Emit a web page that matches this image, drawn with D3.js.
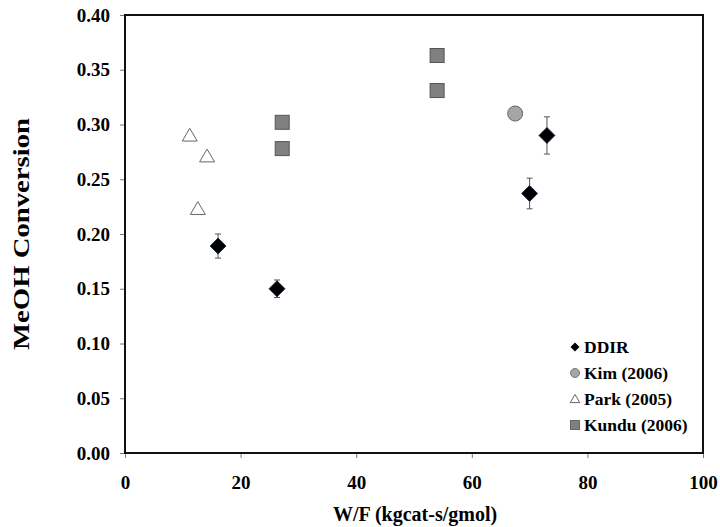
<!DOCTYPE html>
<html>
<head>
<meta charset="utf-8">
<script src="https://cdn.jsdelivr.net/npm/d3@7"></script>
<style>
  body { margin: 0; background: #fff; }
  svg text { font-family: "Liberation Serif", "Times New Roman", serif; font-weight: bold; }
</style>
</head>
<body>
<div id="chart"></div>
<script>
// DDIR data with error bars
const ddirX = [16.1, 26.3, 70.0, 73.0];
const ddirY = [0.189, 0.150, 0.237, 0.290];
const ddirErr = [0.011, 0.008, 0.014, 0.017];

// Kim (2006)
const kimX = [67.5];
const kimY = [0.310];

// Park (2005)
const parkX = [11.2, 14.2, 12.6];
const parkY = [0.290, 0.271, 0.223];

// Kundu (2006)
const kunduX = [27.2, 27.2, 54.0, 54.0];
const kunduY = [0.302, 0.278, 0.363, 0.331];

const xTicks = [0, 20, 40, 60, 80, 100];
const yTicks = [0, 0.05, 0.10, 0.15, 0.20, 0.25, 0.30, 0.35, 0.40];
const legendLabels = ["DDIR", "Kim (2006)", "Park (2005)", "Kundu (2006)"];

const W = 720, H = 527;
const margin = { top: 15, right: 17, bottom: 74, left: 125 };
const width = W - margin.left - margin.right,
      height = H - margin.top - margin.bottom;

const svg = d3.select("#chart").append("svg")
    .attr("width", W).attr("height", H);

const g = svg.append("g")
    .attr("transform", `translate(${margin.left},${margin.top})`);

const x = d3.scaleLinear().domain([0, 100]).range([0, width]);
const y = d3.scaleLinear().domain([0, 0.40]).range([height, 0]);

// axes
const xAxis = g.append("g")
    .attr("transform", `translate(0,${height})`)
    .call(d3.axisBottom(x).tickValues(xTicks).tickSize(5).tickPadding(18).tickFormat(d3.format("d")));
const yAxis = g.append("g")
    .call(d3.axisLeft(y).tickValues(yTicks).tickSize(5).tickPadding(10).tickFormat(d3.format(".2f")));

[xAxis, yAxis].forEach(a => {
    a.select(".domain").remove();
    a.selectAll(".tick line").attr("stroke", "#777");
    a.selectAll(".tick text").attr("font-size", 19).attr("fill", "#000")
        .style("font-family", '"Liberation Serif", serif').style("font-weight", "bold");
});

// plot frame
g.append("rect")
    .attr("width", width).attr("height", height)
    .attr("fill", "none").attr("stroke", "#111").attr("stroke-width", 2);

// axis titles
svg.append("text")
    .attr("x", 415).attr("y", 521)
    .attr("text-anchor", "middle").attr("font-size", 20)
    .text("W/F (kgcat-s/gmol)");
svg.append("text")
    .attr("transform", "translate(29,234) rotate(-90)")
    .attr("text-anchor", "middle").attr("font-size", 23)
    .attr("textLength", 232).attr("lengthAdjust", "spacingAndGlyphs")
    .text("MeOH Conversion");

const diamondPath = s => `M0,${-s}L${s},0L0,${s}L${-s},0Z`;
const triPath = s => `M0,${-s * 0.95}L${s},${s * 0.75}L${-s},${s * 0.75}Z`;

// Park triangles
g.selectAll(".park").data(parkX).enter().append("path")
    .attr("transform", (d, i) => `translate(${x(d)},${y(parkY[i])})`)
    .attr("d", triPath(7.5))
    .attr("fill", "#fff").attr("stroke", "#666").attr("stroke-width", 1);

// Kundu squares
g.selectAll(".kundu").data(kunduX).enter().append("rect")
    .attr("x", d => x(d) - 7).attr("y", (d, i) => y(kunduY[i]) - 7)
    .attr("width", 14).attr("height", 14)
    .attr("fill", "#808080").attr("stroke", "#555").attr("stroke-width", 1);

// Kim circle
g.selectAll(".kim").data(kimX).enter().append("circle")
    .attr("cx", d => x(d)).attr("cy", (d, i) => y(kimY[i]))
    .attr("r", 7.5)
    .attr("fill", "#a6a6a6").attr("stroke", "#666").attr("stroke-width", 1);

// DDIR error bars
const eb = g.selectAll(".err").data(ddirX).enter().append("g").attr("stroke", "#555").attr("stroke-width", 1);
eb.append("line")
    .attr("x1", d => x(d)).attr("x2", d => x(d))
    .attr("y1", (d, i) => y(ddirY[i] + ddirErr[i])).attr("y2", (d, i) => y(ddirY[i] - ddirErr[i]));
eb.append("line")
    .attr("x1", d => x(d) - 3).attr("x2", d => x(d) + 3)
    .attr("y1", (d, i) => y(ddirY[i] + ddirErr[i])).attr("y2", (d, i) => y(ddirY[i] + ddirErr[i]));
eb.append("line")
    .attr("x1", d => x(d) - 3).attr("x2", d => x(d) + 3)
    .attr("y1", (d, i) => y(ddirY[i] - ddirErr[i])).attr("y2", (d, i) => y(ddirY[i] - ddirErr[i]));

// DDIR diamonds
g.selectAll(".ddir").data(ddirX).enter().append("path")
    .attr("transform", (d, i) => `translate(${x(d)},${y(ddirY[i])})`)
    .attr("d", diamondPath(8))
    .attr("fill", "#000").attr("stroke", "#0a1a3a").attr("stroke-width", 0.8);

// legend
const legend = svg.append("g").attr("transform", "translate(575,347)");
const lg = legend.selectAll(".item").data(legendLabels).enter().append("g")
    .attr("transform", (d, i) => `translate(0,${i * 26})`);
lg.append("text").attr("x", 9).attr("y", 6).attr("font-size", 17.5).text(d => d);
lg.each(function(d, i) {
    const s = d3.select(this);
    if (i === 0) s.append("path").attr("d", diamondPath(4.5)).attr("fill", "#000");
    if (i === 1) s.append("circle").attr("r", 4.5).attr("fill", "#a6a6a6").attr("stroke", "#777");
    if (i === 2) s.append("path").attr("d", triPath(4.8)).attr("fill", "#fff").attr("stroke", "#666");
    if (i === 3) s.append("rect").attr("x", -4.5).attr("y", -4.5).attr("width", 9).attr("height", 9)
        .attr("fill", "#808080").attr("stroke", "#666");
});
</script>
</body>
</html>
